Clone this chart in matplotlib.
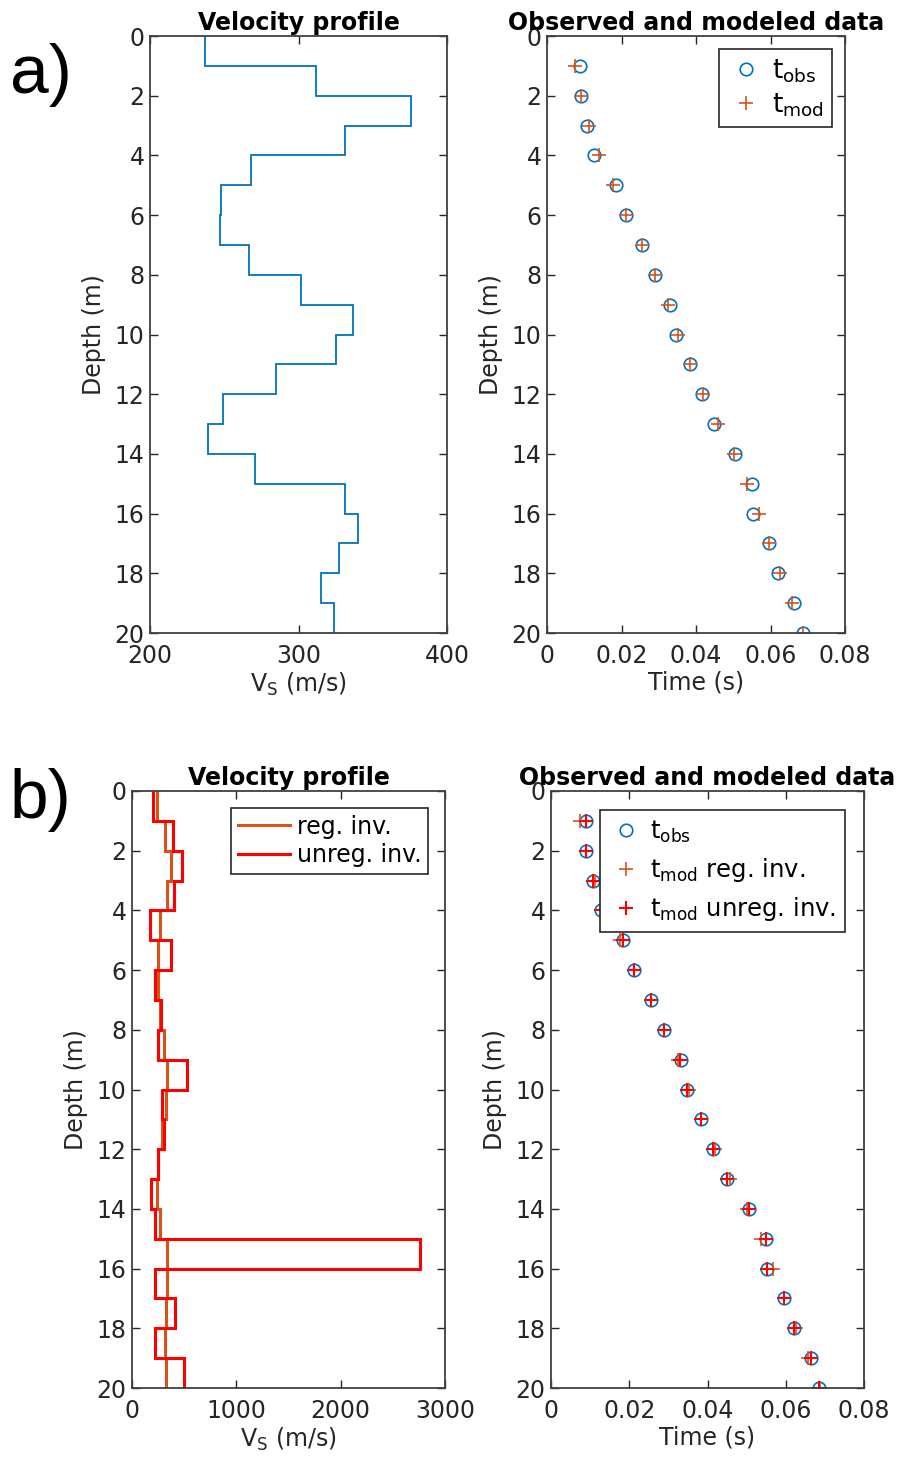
import numpy as np
import matplotlib
matplotlib.use("Agg")
import matplotlib.pyplot as plt

# layer boundaries (m) and observation depths
depth_edges = np.arange(0, 21, 1)
obs_depth = np.arange(1, 21, 1)

# regularized inversion velocity (m/s), one value per 1 m layer
vs_reg = [237, 312, 376, 331, 268, 248, 247, 267, 302, 337,
          325, 285, 249, 239, 271, 331, 340, 327, 315, 324]
# unregularized inversion velocity (m/s)
vs_unreg = [197, 393, 475, 399, 172, 376, 220, 281, 246, 523,
            287, 306, 252, 178, 217, 2760, 223, 415, 220, 495]

# travel times (s)
t_obs = [0.0089, 0.0090, 0.0107, 0.0127, 0.0185, 0.0211, 0.0255, 0.0290, 0.0331, 0.0347,
         0.0384, 0.0415, 0.0449, 0.0506, 0.0550, 0.0553, 0.0595, 0.0620, 0.0664, 0.0686]
t_mod_reg = [0.0074, 0.0090, 0.0113, 0.0140, 0.0176, 0.0213, 0.0255, 0.0290, 0.0324, 0.0352,
             0.0384, 0.0418, 0.0458, 0.0501, 0.0537, 0.0568, 0.0595, 0.0625, 0.0658, 0.0688]
t_mod_unreg = [0.0089, 0.0090, 0.0107, 0.0128, 0.0185, 0.0212, 0.0255, 0.0290, 0.0330, 0.0347,
               0.0384, 0.0415, 0.0450, 0.0505, 0.0550, 0.0553, 0.0595, 0.0621, 0.0664, 0.0686]

blue = '#0072BD'
orange = '#D95319'
red = '#FF0000'
axcol = '#404040'

plt.rcParams['font.family'] = ['DejaVu Sans']
plt.rcParams['font.size'] = 17
plt.rcParams['mathtext.fontset'] = 'dejavusans'

W, H = 909, 1465
fig = plt.figure(figsize=(W / 100, H / 100), dpi=100)


def box(x0, y0, x1, y1):
    return [x0 / W, 1 - y1 / H, (x1 - x0) / W, (y1 - y0) / H]


def style(ax, xlim, xticks, xlabel, title):
    ax.set_ylim(20, 0)
    ax.set_yticks(np.arange(0, 21, 2))
    ax.set_xlim(*xlim)
    ax.set_xticks(xticks)
    ax.tick_params(direction='in', length=6, width=1, top=True, right=True,
                   labelsize=17, colors='#262626', pad=4)
    ax.tick_params(axis='x', pad=8)
    for s in ax.spines.values():
        s.set_color(axcol)
        s.set_linewidth(1.3)
    ax.set_ylabel('Depth (m)', fontsize=17, color='#262626', labelpad=6)
    ax.set_xlabel(xlabel, fontsize=17, color='#262626', labelpad=2)
    ax.set_title(title, fontsize=17, fontweight='bold', pad=4)


def legend(ax, **kw):
    leg = ax.legend(loc='upper right', fancybox=False, framealpha=1,
                    edgecolor='#262626', handletextpad=0.3, **kw)
    leg.get_frame().set_linewidth(1.2)
    return leg


# a) velocity profile
ax1 = fig.add_axes(box(150, 36, 447, 633))
ax1.stairs(vs_reg, depth_edges, orientation='horizontal', baseline=None,
           color=blue, lw=1.3)
style(ax1, (200, 400), [200, 300, 400], r'V$_\mathregular{S}$ (m/s)', 'Velocity profile')

# a) observed and modeled
ax2 = fig.add_axes(box(547, 36, 845, 633))
ax2.plot(t_obs, obs_depth, 'o', mfc='none', mec=blue, ms=9, mew=1.2, ls='none',
         label=r'$\mathregular{t_{obs}}$')
ax2.plot(t_mod_reg, obs_depth, '+', color=orange, ms=10, mew=1.2, ls='none',
         label=r'$\mathregular{t_{mod}}$')
style(ax2, (0, 0.08), [0, 0.02, 0.04, 0.06, 0.08], 'Time (s)', 'Observed and modeled data')
ax2.set_xticklabels(['0', '0.02', '0.04', '0.06', '0.08'])
legend(ax2, fontsize=19, handlelength=1.4, borderaxespad=0.5, borderpad=0.3,
       labelspacing=0.25)

# b) velocity profile
ax3 = fig.add_axes(box(132, 791, 445, 1388))
ax3.stairs(vs_reg, depth_edges, orientation='horizontal', baseline=None,
           color=orange, lw=2.2, label='reg. inv.')
ax3.stairs(vs_unreg, depth_edges, orientation='horizontal', baseline=None,
           color=red, lw=2.2, label='unreg. inv.')
style(ax3, (0, 3000), [0, 1000, 2000, 3000], r'V$_\mathregular{S}$ (m/s)', 'Velocity profile')
leg3 = legend(ax3, fontsize=17, handlelength=2.2, borderaxespad=0.7, borderpad=0.3,
              labelspacing=0.2)
for h in leg3.legend_handles:
    h.set_linewidth(2.2)

# b) observed and modeled
ax4 = fig.add_axes(box(551, 791, 864, 1388))
ax4.plot(t_obs, obs_depth, 'o', mfc='none', mec=blue, ms=9, mew=1.2, ls='none',
         label=r'$\mathregular{t_{obs}}$')
ax4.plot(t_mod_reg, obs_depth, '+', color=orange, ms=10, mew=1.2, ls='none',
         label=r'$\mathregular{t_{mod}}$ reg. inv.')
ax4.plot(t_mod_unreg, obs_depth, '+', color=red, ms=10, mew=1.5, ls='none',
         label=r'$\mathregular{t_{mod}}$ unreg. inv.')
style(ax4, (0, 0.08), [0, 0.02, 0.04, 0.06, 0.08], 'Time (s)', 'Observed and modeled data')
ax4.set_xticklabels(['0', '0.02', '0.04', '0.06', '0.08'])
legend(ax4, fontsize=17.5, handlelength=1.4, borderaxespad=0.8, borderpad=0.35,
       labelspacing=0.45)

fig.text(10 / W, 1 - 75 / H, 'a)', fontsize=50, family='Liberation Sans', va='center', ha='left')
fig.text(10 / W, 1 - 800 / H, 'b)', fontsize=50, family='Liberation Sans', va='center', ha='left')

fig.savefig('out.png', dpi=100)
